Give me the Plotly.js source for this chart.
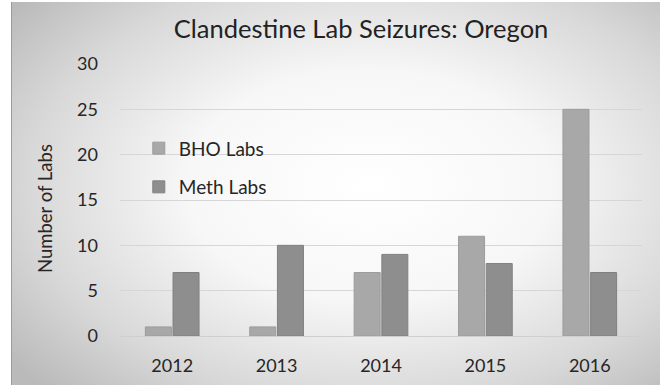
<!DOCTYPE html>
<html>
<head>
<meta charset="utf-8">
<script src="https://cdn.plot.ly/plotly-3.0.1.min.js"></script>
<style>
  html, body { margin: 0; padding: 0; background: #ffffff; }
  #frame {
    position: absolute; left: 0; top: 0; width: 660px; height: 387px;
    background: #ffffff;
  }
  #panel {
    position: absolute; left: 11px; top: 2px; width: 649px; height: 383px;
    background: radial-gradient(ellipse 70% 75% at 55% 48%, #ffffff 0%, #f7f7f7 40%, #d8d8d8 75%, #bababa 100%);
    border-left: 1px solid #9a9a9a;
  }
  #chart { position: absolute; left: 0; top: 0; width: 660px; height: 387px; }
</style>
</head>
<body>
<div id="frame"><div id="panel"></div><div id="chart"></div></div>
<script>
  // Yearly clandestine lab seizures in Oregon
  const years = ['2012', '2013', '2014', '2015', '2016'];
  const bhoLabs = [1, 1, 7, 11, 25];
  const methLabs = [7, 10, 9, 8, 7];
  const yTicks = [0, 5, 10, 15, 20, 25, 30];

  const font = 'Lato, "Open Sans", "DejaVu Sans", sans-serif';
  const ink = '#262626';

  const traces = [
    {
      type: 'bar', name: 'BHO Labs', x: years, y: bhoLabs,
      legendgroup: 'bho',
      marker: { color: '#a8a8a8', line: { color: '#9c9c9c', width: 1 } },
      hoverinfo: 'skip'
    },
    {
      type: 'bar', name: 'Meth Labs', x: years, y: methLabs,
      legendgroup: 'meth',
      marker: { color: '#8e8e8e', line: { color: '#808080', width: 1 } },
      hoverinfo: 'skip'
    }
  ];

  const layout = {
    width: 660, height: 387,
    paper_bgcolor: 'rgba(0,0,0,0)',
    plot_bgcolor: 'rgba(0,0,0,0)',
    margin: { l: 120, r: 18, t: 64, b: 51 },
    font: { family: font, color: ink, size: 18 },
    title: {
      text: 'Clandestine Lab Seizures: Oregon',
      font: { family: font, size: 25.5, color: '#222222' },
      x: 0.547, xanchor: 'center', y: 0.925, yanchor: 'middle'
    },
    barmode: 'group',
    bargap: 0.47,
    bargroupgap: 0.06,
    xaxis: {
      type: 'category',
      showgrid: false, zeroline: false, showline: false,
      ticks: '', tickfont: { size: 18, color: ink },
      ticklabelstandoff: 17
    },
    yaxis: {
      range: [0, 30], tickvals: yTicks, ticktext: yTicks.map(String),
      showgrid: true, gridcolor: '#d6d6d6', gridwidth: 1,
      zeroline: true, zerolinecolor: '#cfcfcf', zerolinewidth: 1,
      showline: false, ticks: '',
      tickfont: { size: 18, color: ink },
      ticklabelstandoff: 21
    },
    annotations: [
      {
        text: 'Number of Labs', textangle: -90,
        xref: 'paper', yref: 'paper',
        x: (45 - 120) / 522, y: (336 - 209) / 272,
        xanchor: 'center', yanchor: 'middle',
        showarrow: false,
        font: { family: font, size: 18.5, color: ink }
      }
    ],
    showlegend: true,
    legend: {
      x: 0.036, y: 0.76, xanchor: 'left', yanchor: 'top',
      bgcolor: 'rgba(0,0,0,0)',
      font: { size: 19, color: ink },
      tracegroupgap: 11,
      itemwidth: 30
    }
  };

  Plotly.newPlot('chart', traces, layout, { staticPlot: true, displayModeBar: false });
</script>
</body>
</html>
